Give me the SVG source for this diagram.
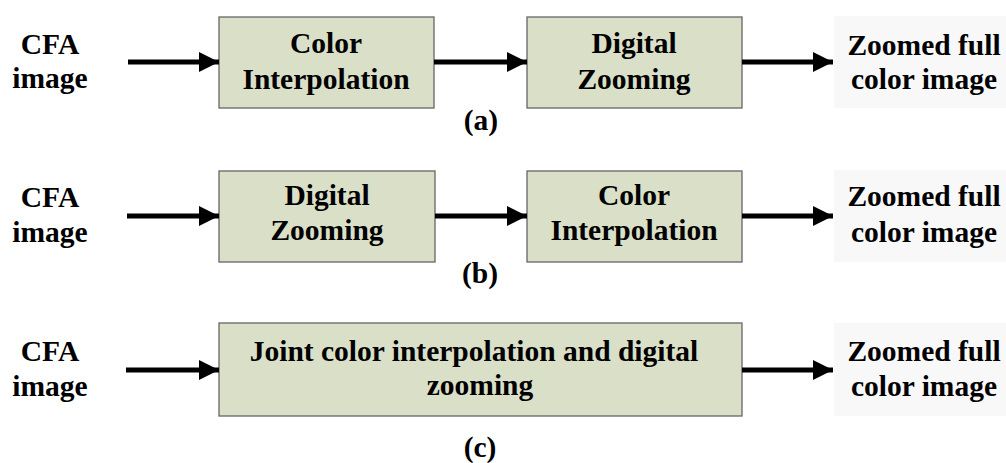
<svg xmlns="http://www.w3.org/2000/svg" width="1006" height="463" viewBox="0 0 1006 463">
  <defs>
    <marker id="head" markerUnits="userSpaceOnUse" markerWidth="22" markerHeight="22" refX="20" refY="10" orient="auto">
      <path d="M0,0 L20,10 L0,20 Z" fill="#000"/>
    </marker>
    <style>
      .box { fill: #dadfc7; stroke: #666; stroke-width: 1.3; }
      .out { fill: #f8f8f8; }
      .t { font-weight: bold; font-size: 29.5px; fill: #000; text-anchor: middle; }
      .edge { stroke: #000; stroke-width: 5; fill: none; marker-end: url(#head); }
    </style>
  </defs>
  <rect width="1006" height="463" fill="#fff"/>

  <g font-family="Liberation Serif, Times New Roman, serif">
  <!-- (a) interpolation then zooming -->
  <g id="a-input"><text class="t" x="50" y="54">CFA</text><text class="t" x="50" y="88">image</text></g>
  <g id="a-interp"><rect class="box" x="219" y="17" width="215" height="91"/><text class="t" x="326" y="53">Color</text><text class="t" x="326" y="89">Interpolation</text></g>
  <g id="a-zoom"><rect class="box" x="527" y="17" width="215" height="91"/><text class="t" x="634" y="53">Digital</text><text class="t" x="634" y="89">Zooming</text></g>
  <g id="a-output"><rect class="out" x="834" y="16" width="172" height="92"/><text class="t" x="924" y="55">Zoomed full</text><text class="t" x="924" y="89">color image</text></g>
  <text class="t" x="481" y="130">(a)</text>

  <!-- (b) zooming then interpolation -->
  <g id="b-input"><text class="t" x="50" y="207">CFA</text><text class="t" x="50" y="242">image</text></g>
  <g id="b-zoom"><rect class="box" x="219" y="171" width="216" height="91"/><text class="t" x="327" y="205">Digital</text><text class="t" x="327" y="240">Zooming</text></g>
  <g id="b-interp"><rect class="box" x="527" y="171" width="215" height="91"/><text class="t" x="634" y="205">Color</text><text class="t" x="634" y="240">Interpolation</text></g>
  <g id="b-output"><rect class="out" x="834" y="170" width="172" height="92"/><text class="t" x="924" y="206">Zoomed full</text><text class="t" x="924" y="242">color image</text></g>
  <text class="t" x="480" y="283">(b)</text>

  <!-- (c) joint processing -->
  <g id="c-input"><text class="t" x="50" y="361">CFA</text><text class="t" x="50" y="396">image</text></g>
  <g id="c-joint"><rect class="box" x="219" y="323" width="523" height="93"/><text class="t" x="474" y="361">Joint color interpolation and digital</text><text class="t" x="480" y="395">zooming</text></g>
  <g id="c-output"><rect class="out" x="834" y="323" width="172" height="93"/><text class="t" x="924" y="361">Zoomed full</text><text class="t" x="924" y="396">color image</text></g>
  <text class="t" x="480" y="457">(c)</text>
  </g>

  <g id="connectors">
    <path class="edge" d="M128,62 H219"/>
    <path class="edge" d="M434,62 H527"/>
    <path class="edge" d="M742,62 H833"/>
    <path class="edge" d="M127,216 H219"/>
    <path class="edge" d="M435,216 H527"/>
    <path class="edge" d="M742,216 H833"/>
    <path class="edge" d="M126,370 H219"/>
    <path class="edge" d="M742,370 H833"/>
  </g>
</svg>
